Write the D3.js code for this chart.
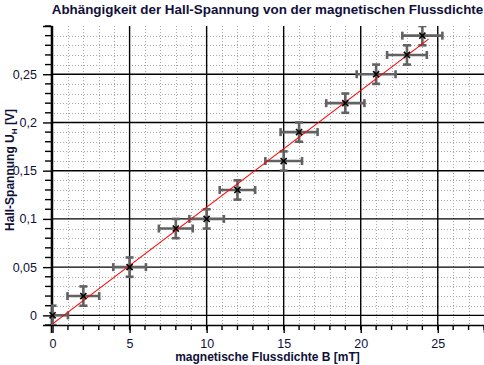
<!DOCTYPE html>
<html>
<head>
<meta charset="utf-8">
<script src="https://cdn.jsdelivr.net/npm/d3@7"></script>
<style>
    body { margin: 0; background: #fff; }
    svg { display: block; }
</style>
</head>
<body>
<div id="chart"></div>
<script>
// measured values (B in mT, U_H in V) with their error bars
var fluxB = [0, 2, 5, 8, 10, 12, 15, 16, 19, 21, 23, 24];
var hallU = [0, 0.02, 0.05, 0.09, 0.10, 0.13, 0.16, 0.19, 0.22, 0.25, 0.27, 0.29];
var errB = [1.0, 1.03, 1.06, 1.1, 1.12, 1.15, 1.19, 1.2, 1.24, 1.26, 1.29, 1.3];
var errU = [0.01, 0.01, 0.01, 0.01, 0.01, 0.01, 0.01, 0.01, 0.01, 0.01, 0.01, 0.01];

// range of the fitted line
var fitRange = [0, 24.4];

// tick values and labels
var xTicks = [0, 5, 10, 15, 20, 25];
var xTickLabels = ["0", "5", "10", "15", "20", "25"];
var yTicks = [0, 0.05, 0.1, 0.15, 0.2, 0.25];
var yTickLabels = ["0", "0,05", "0,1", "0,15", "0,2", "0,25"];

var width = 484,
    height = 365,
    plotLeft = 51,
    plotRight = 484,
    plotTop = 26,
    plotBottom = 325;

var svg = d3.select("#chart").append("svg")
    .attr("width", width)
    .attr("height", height);

var x = d3.scaleLinear().domain([-0.1, 28]).range([plotLeft, plotRight]),
    y = d3.scaleLinear().domain([-0.01, 0.3]).range([plotBottom, plotTop]);

var data = fluxB.map(function (b, i) {
    return {b: b, u: hallU[i], eb: errB[i], eu: errU[i]};
});

svg.append("defs").append("clipPath")
    .attr("id", "plot")
    .append("rect")
    .attr("x", plotLeft)
    .attr("y", plotTop)
    .attr("width", plotRight - plotLeft)
    .attr("height", plotBottom - plotTop);

// minor grid (dotted), every 1 mT and every 0.01 V
var minorX = d3.range(1, 28).filter(function (v) { return v % 5 !== 0; }),
    minorY = d3.range(-1, 30).filter(function (v) { return v % 5 !== 0; })
        .map(function (v) { return v / 100; });

svg.append("g").selectAll("line").data(minorX).join("line")
    .attr("x1", function (d) { return Math.round(x(d)) + 0.5; })
    .attr("x2", function (d) { return Math.round(x(d)) + 0.5; })
    .attr("y1", plotTop).attr("y2", plotBottom)
    .attr("stroke", "#a8a8a8").attr("stroke-dasharray", "1,2");

svg.append("g").selectAll("line").data(minorY).join("line")
    .attr("y1", function (d) { return Math.round(y(d)) + 0.5; })
    .attr("y2", function (d) { return Math.round(y(d)) + 0.5; })
    .attr("x1", plotLeft).attr("x2", plotRight)
    .attr("stroke", "#a8a8a8").attr("stroke-dasharray", "1,2");

// major grid (solid)
svg.append("g").selectAll("line").data(xTicks).join("line")
    .attr("x1", function (d) { return x(d); })
    .attr("x2", function (d) { return x(d); })
    .attr("y1", plotTop).attr("y2", plotBottom)
    .attr("stroke", "#000").attr("stroke-width", 1.4);

svg.append("g").selectAll("line").data(yTicks).join("line")
    .attr("y1", function (d) { return y(d); })
    .attr("y2", function (d) { return y(d); })
    .attr("x1", plotLeft).attr("x2", plotRight)
    .attr("stroke", "#000").attr("stroke-width", 1.4);

// axes
var xAxis = d3.axisBottom(x)
    .tickValues(xTicks)
    .tickSize(8)
    .tickFormat(function (d, i) { return xTickLabels[i]; });
var yAxis = d3.axisLeft(y)
    .tickValues(yTicks)
    .tickSize(8)
    .tickFormat(function (d, i) { return yTickLabels[i]; });

var gx = svg.append("g")
    .attr("transform", "translate(0," + plotBottom + ")")
    .call(xAxis);
gx.append("g").selectAll("line").data(d3.range(1, 29)).join("line")
    .attr("x1", function (d) { return x(d); })
    .attr("x2", function (d) { return x(d); })
    .attr("y2", 5)
    .attr("stroke", "#000").attr("stroke-width", 1.4);

var gy = svg.append("g")
    .attr("transform", "translate(" + plotLeft + ",0)")
    .call(yAxis);
gy.append("g").selectAll("line").data(minorY.concat([0.3])).join("line")
    .attr("y1", function (d) { return y(d); })
    .attr("y2", function (d) { return y(d); })
    .attr("x2", -6)
    .attr("stroke", "#000").attr("stroke-width", 1.4);

[gx, gy].forEach(function (g) {
    g.select(".domain").attr("stroke", "#000").attr("stroke-width", 1.6);
    g.selectAll(".tick line").attr("stroke", "#000").attr("stroke-width", 1.4);
    g.selectAll(".tick text")
        .attr("fill", "#10103a")
        .style("font-family", "'Liberation Sans', Arial, sans-serif")
        .style("font-size", "12.5px");
});
gx.selectAll(".tick text").attr("y", 14);
gy.selectAll(".tick text").attr("x", -14);

// error bars
var plot = svg.append("g").attr("clip-path", "url(#plot)");
var cap = 4;
var bars = plot.append("g")
    .attr("stroke", "#626262")
    .attr("stroke-width", 2.6)
    .selectAll("g").data(data).join("g");

bars.append("line")
    .attr("x1", function (d) { return x(d.b - d.eb); })
    .attr("x2", function (d) { return x(d.b + d.eb); })
    .attr("y1", function (d) { return y(d.u); })
    .attr("y2", function (d) { return y(d.u); });
bars.append("line")
    .attr("x1", function (d) { return x(d.b); })
    .attr("x2", function (d) { return x(d.b); })
    .attr("y1", function (d) { return y(d.u - d.eu); })
    .attr("y2", function (d) { return y(d.u + d.eu); });
[-1, 1].forEach(function (s) {
    bars.append("line")
        .attr("x1", function (d) { return x(d.b + s * d.eb); })
        .attr("x2", function (d) { return x(d.b + s * d.eb); })
        .attr("y1", function (d) { return y(d.u) - cap; })
        .attr("y2", function (d) { return y(d.u) + cap; });
    bars.append("line")
        .attr("x1", function (d) { return x(d.b) - cap; })
        .attr("x2", function (d) { return x(d.b) + cap; })
        .attr("y1", function (d) { return y(d.u + s * d.eu); })
        .attr("y2", function (d) { return y(d.u + s * d.eu); });
});

// least squares fit line
var mb = d3.mean(fluxB),
    mu = d3.mean(hallU),
    sxy = d3.sum(data, function (d) { return (d.b - mb) * (d.u - mu); }),
    sxx = d3.sum(data, function (d) { return (d.b - mb) * (d.b - mb); }),
    slope = sxy / sxx,
    intercept = mu - slope * mb;

plot.append("path")
    .datum(fitRange)
    .attr("fill", "none")
    .attr("stroke", "#ff0000")
    .attr("stroke-width", 1.1)
    .attr("d", d3.line()
        .x(function (d) { return x(d); })
        .y(function (d) { return y(intercept + slope * d); }));

// markers
svg.append("g").selectAll("path").data(data).join("path")
    .attr("transform", function (d) { return "translate(" + x(d.b) + "," + y(d.u) + ")"; })
    .attr("d", d3.symbol().type(d3.symbolTimes).size(26))
    .attr("fill", "none")
    .attr("stroke", "#000")
    .attr("stroke-width", 1.6);

// title and axis labels
var labelFont = "'Liberation Sans', Arial, sans-serif";
svg.append("text")
    .attr("x", (plotLeft + plotRight) / 2)
    .attr("y", 14)
    .attr("text-anchor", "middle")
    .style("font-family", labelFont)
    .style("font-weight", "bold")
    .style("font-size", "13.4px")
    .attr("fill", "#10103a")
    .text("Abhängigkeit der Hall-Spannung von der magnetischen Flussdichte");

svg.append("text")
    .attr("x", (plotLeft + plotRight) / 2)
    .attr("y", 361)
    .attr("text-anchor", "middle")
    .style("font-family", labelFont)
    .style("font-weight", "bold")
    .style("font-size", "12px")
    .attr("fill", "#10103a")
    .text("magnetische Flussdichte B [mT]");

var yl = svg.append("text")
    .attr("transform", "translate(14,170) rotate(-90)")
    .attr("text-anchor", "middle")
    .style("font-family", labelFont)
    .style("font-weight", "bold")
    .style("font-size", "12px")
    .attr("fill", "#10103a");
yl.append("tspan").text("Hall-Spannung U");
yl.append("tspan").attr("dy", 3).style("font-size", "8px").text("H");
yl.append("tspan").attr("dy", -3).text(" [V]");
</script>
</body>
</html>
